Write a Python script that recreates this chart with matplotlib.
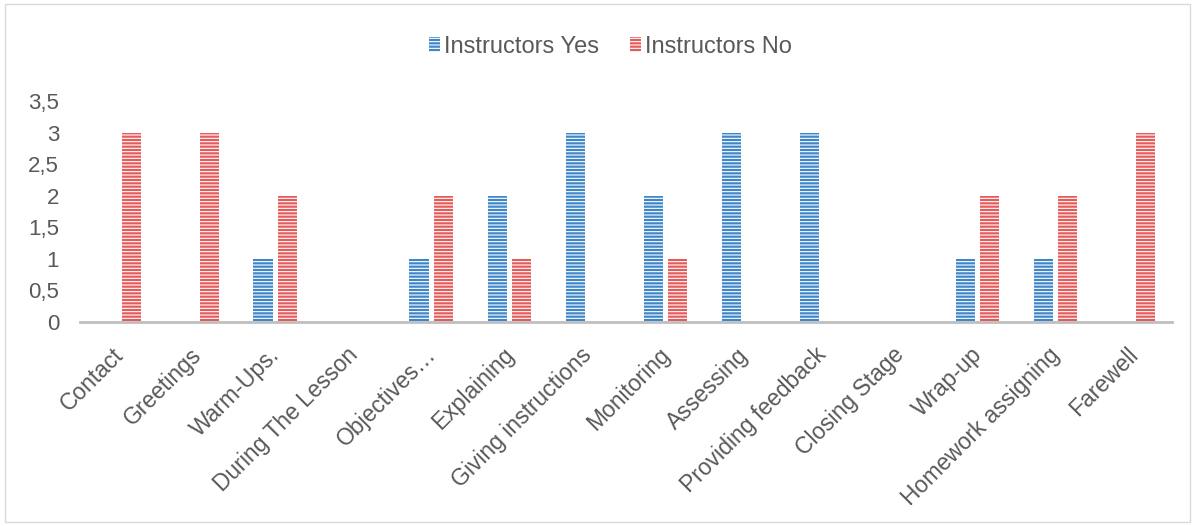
import numpy as np
import matplotlib.pyplot as plt
from matplotlib.patches import Rectangle
from matplotlib.transforms import ScaledTranslation

plt.rcParams['font.family'] = ['Liberation Sans', 'DejaVu Sans']
plt.rcParams['hatch.linewidth'] = 0.8

categories = ['Contact', 'Greetings', 'Warm-Ups.', 'During The Lesson', 'Objectives\u2026',
              'Explaining', 'Giving instructions', 'Monitoring', 'Assessing',
              'Providing feedback', 'Closing Stage', 'Wrap-up', 'Homework assigning', 'Farewell']
yes_vals = [0, 0, 1, 0, 1, 2, 3, 2, 3, 3, 0, 1, 1, 0]
no_vals = [3, 3, 2, 0, 2, 1, 0, 1, 0, 0, 0, 2, 2, 3]
yticks = [0, 0.5, 1, 1.5, 2, 2.5, 3, 3.5]
ytick_labels = ['0', '0,5', '1', '1,5', '2', '2,5', '3', '3,5']

blue = '#3f86c8'
red = '#e45b5b'
grey = '#595959'

fig = plt.figure(figsize=(11.95, 5.26), dpi=100)
ax = fig.add_axes([0.067, 0.388, 0.914, 0.42])

x = np.arange(len(categories))
w = 0.245
ax.bar(x - 0.155, yes_vals, w, color=blue, edgecolor='white', linewidth=0,
       hatch='-----', label='Instructors Yes')
ax.bar(x + 0.155, no_vals, w, color=red, edgecolor='white', linewidth=0,
       hatch='-----', label='Instructors No')

ax.set_xlim(-0.5, len(categories) - 0.5)
ax.set_ylim(0, 3.5)
ax.set_yticks(yticks)
ax.set_yticklabels(ytick_labels, fontsize=16, color=grey)
ax.set_xticks(x)
ax.set_xticklabels(categories, rotation=45, ha='right', rotation_mode='anchor',
                   fontsize=16.5, color=grey)
ax.tick_params(axis='x', length=0, pad=14)
ax.tick_params(axis='y', length=0, pad=15)
# nudge the rotated labels a little to the left
off = ScaledTranslation(-0.07, -0.02, fig.dpi_scale_trans)
for lbl in ax.get_xticklabels():
    lbl.set_transform(lbl.get_transform() + off)
for s in ['top', 'right', 'left']:
    ax.spines[s].set_visible(False)
ax.spines['bottom'].set_color('#bfbfbf')
ax.spines['bottom'].set_linewidth(2)

fig.legend(loc='center', bbox_to_anchor=(0.511, 0.911), ncol=2, frameon=False,
           fontsize=17, labelcolor=grey, handlelength=0.45, handleheight=0.55,
           handletextpad=0.2, columnspacing=1.3)

fig.patches.append(Rectangle((0.004, 0.008), 0.992, 0.984, transform=fig.transFigure,
                             fill=False, edgecolor='#d9d9d9', linewidth=1))

plt.savefig('out.png', dpi=100)
